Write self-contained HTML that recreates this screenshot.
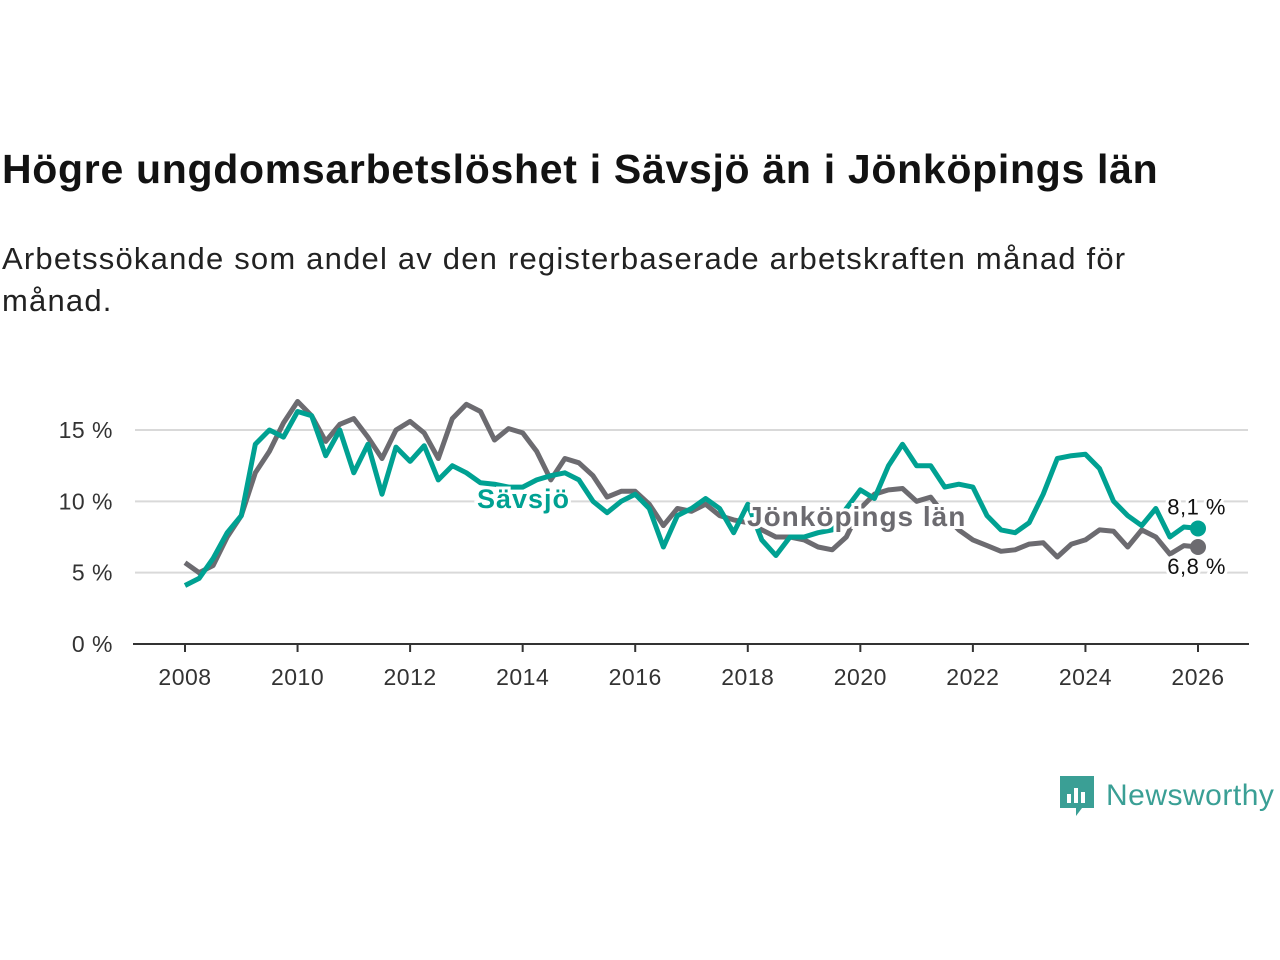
<!DOCTYPE html>
<html><head><meta charset="utf-8"><style>
body{margin:0;width:1280px;height:960px;background:#fff;font-family:"Liberation Sans",sans-serif;overflow:hidden;position:relative}
h1{position:absolute;left:2px;top:146px;margin:0;font-size:41px;font-weight:bold;color:#121212;letter-spacing:0.7px}
.sub{position:absolute;left:2px;top:238px;margin:0;font-size:31px;color:#222;line-height:42px;width:1175px;letter-spacing:1.2px}
svg{position:absolute;left:0;top:0}
</style></head><body>
<h1>Högre ungdomsarbetslöshet i Sävsjö än i Jönköpings län</h1>
<p class="sub">Arbetssökande som andel av den registerbaserade arbetskraften månad för månad.</p>
<svg id="chart" width="1280" height="960"></svg>
<div style="position:absolute;left:1060px;top:774px;display:flex;align-items:center">
<svg width="34" height="44" style="position:static"><path d="M0 2h34v32H22l-6 8v-8H0z" fill="#3a9f95"/><rect x="7" y="20" width="4" height="9" fill="#fff"/><rect x="14" y="14" width="4" height="15" fill="#fff"/><rect x="21" y="18" width="4" height="11" fill="#fff"/></svg>
<span style="font-size:30px;color:#3a9f95;margin-left:12px;letter-spacing:0.5px">Newsworthy</span></div>
<script>
const years=[2008,2010,2012,2014,2016,2018,2020,2022,2024,2026];
const yTicks=[0,5,10,15];
const startYear=2008;
const stepYears=0.25;
const jonkoping=[5.7,5.0,5.5,7.5,9.0,12.0,13.5,15.5,17.0,16.0,14.2,15.4,15.8,14.5,13.0,15.0,15.6,14.8,13.0,15.8,16.8,16.3,14.3,15.1,14.8,13.5,11.5,13.0,12.7,11.8,10.3,10.7,10.7,9.8,8.3,9.5,9.3,9.8,9.0,8.7,8.5,8.0,7.5,7.5,7.3,6.8,6.6,7.5,9.5,10.5,10.8,10.9,10.0,10.3,9.0,8.0,7.3,6.9,6.5,6.6,7.0,7.1,6.1,7.0,7.3,8.0,7.9,6.8,8.0,7.5,6.3,6.9,6.8];
const savsjo=[4.1,4.6,6.0,7.8,9.0,14.0,15.0,14.5,16.3,16.0,13.2,15.0,12.0,14.0,10.5,13.8,12.8,13.9,11.5,12.5,12.0,11.3,11.2,11.0,11.0,11.5,11.8,12.0,11.5,10.0,9.2,10.0,10.5,9.5,6.8,9.0,9.5,10.2,9.5,7.8,9.8,7.3,6.2,7.5,7.5,7.8,8.0,9.5,10.8,10.2,12.5,14.0,12.5,12.5,11.0,11.2,11.0,9.0,8.0,7.8,8.5,10.5,13.0,13.2,13.3,12.3,10.0,9.0,8.3,9.5,7.5,8.2,8.1];
const NS="http://www.w3.org/2000/svg";
const svg=document.getElementById('chart');
const x=v=>185+(v-2008)*(1198-185)/18;
const y=v=>644-v*(644-430)/15;
function mk(t,a,p){const e=document.createElementNS(NS,t);for(const k in a)e.setAttribute(k,a[k]);(p||svg).appendChild(e);return e;}
yTicks.forEach(t=>{
 if(t>0){const g=mk('line',{x1:135,x2:1248,y1:y(t),y2:y(t),stroke:'#d9d9d9','stroke-width':2});
 
 }
 const l=mk('text',{x:113,y:y(t)+8,'text-anchor':'end','font-size':23,fill:'#333','letter-spacing':0.5});l.textContent=t+' %';
 
 
});
const ax=mk('line',{x1:133,x2:1249,y1:644,y2:644,stroke:'#333','stroke-width':2});


years.forEach(yr=>{
 mk('line',{x1:x(yr),x2:x(yr),y1:644,y2:652,stroke:'#333','stroke-width':2});
 const l=mk('text',{x:x(yr),y:685,'text-anchor':'middle','font-size':23,fill:'#333','letter-spacing':0.5});l.textContent=yr;
 
 
});
function line(d,c,name){
 const p=mk('path',{d:d.map((v,i)=>(i?'L':'M')+x(startYear+i*stepYears).toFixed(1)+' '+y(v).toFixed(1)).join(''),fill:'none',stroke:c,'stroke-width':5,'stroke-linejoin':'round'});
 
 
 const last=d[d.length-1];
 const dot=mk('circle',{cx:x(startYear+(d.length-1)*stepYears),cy:y(last),r:8,fill:c});
 
 
}
line(jonkoping,'#6c6b70','jonkoping-line');
line(savsjo,'#00a192','savsjo-line');
function lab(t,xx,yy,c,name,anchor,bold,size,ls){
 const e=mk('text',{x:xx,y:yy,'font-size':size,'font-weight':bold?'bold':'normal',fill:c,stroke:'#fff','stroke-width':6,'paint-order':'stroke','text-anchor':anchor||'start','letter-spacing':ls||0});
 e.textContent=t;
 
 
}
lab('Sävsjö',477,508,'#00a192','savsjo-label','start',true,27,1);
lab('Jönköpings län',747,526,'#6c6b70','jonkoping-label','start',true,28,1);
const lv=savsjo[savsjo.length-1], lj=jonkoping[jonkoping.length-1];
lab(lv.toFixed(1).replace('.',',')+' %',1226,y(lv)-14,'#111','savsjo-value-label','end',false,22,0.5);
lab(lj.toFixed(1).replace('.',',')+' %',1226,y(lj)+27,'#111','jonkoping-value-label','end',false,22,0.5);
</script>
</body></html>
